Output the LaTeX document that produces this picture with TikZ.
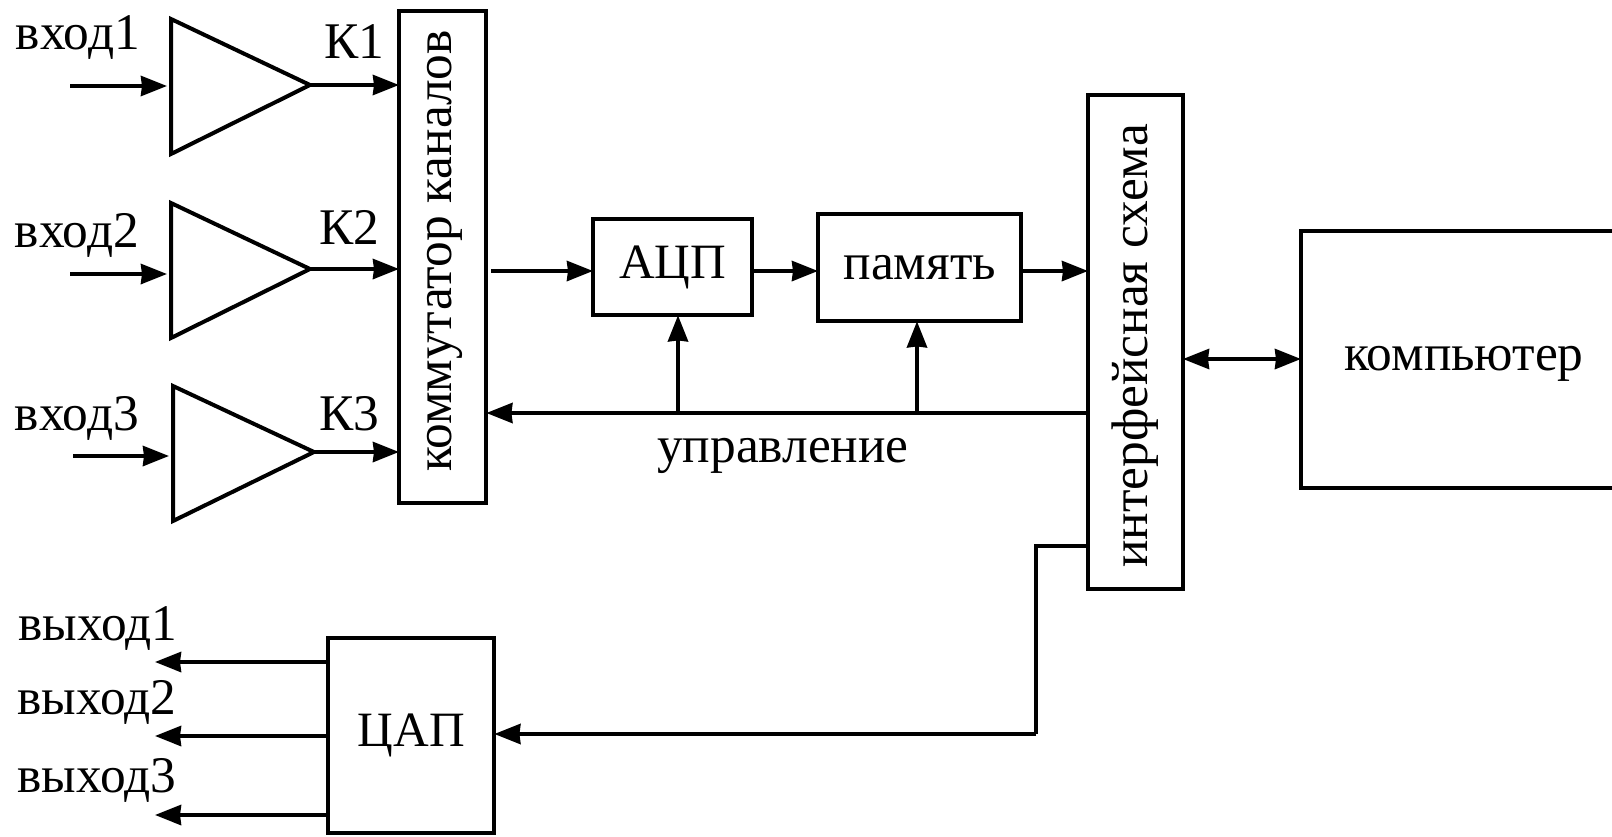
\documentclass[tikz,border=0pt]{standalone}
\usepackage{fontspec}
\setmainfont{Liberation Serif}
\usetikzlibrary{arrows.meta}
\newcommand{\bigfont}{\fontsize{25.7}{28}\selectfont}
\newcommand{\capfont}{\fontsize{24.7}{28}\selectfont}
\tikzset{
 x=0.5pt,y=-0.5pt,
 wire/.style={line width=1.9pt,shorten >=-1pt,-{Stealth[length=13pt,width=10pt,inset=0.5pt]}},
 plain/.style={line width=1.9pt},
 twoway/.style={line width=1.9pt,{Stealth[length=13pt,width=10pt,inset=0.5pt]}-{Stealth[length=13pt,width=10pt,inset=0.5pt]}},
 blockbox/.style={draw,line width=2.2pt,inner sep=0pt,anchor=north west},
 lab/.style={inner sep=0pt,font=\bigfont},
 amp/.style={draw,line width=2pt,line join=miter},
}
\newcommand{\blockat}[6]{\node[blockbox,minimum width=#4*0.5pt,minimum height=#5*0.5pt] (#1) at (#2,#3) {#6};}
\begin{document}
\begin{tikzpicture}
\useasboundingbox (0,0) rectangle (1612,836);
% amplifiers
\foreach \n/\xa/\ya/\ax/\ay in {1/171/19/310/85,2/171/203/310/269,3/173/386/314/452}{
  \coordinate (t\n) at (\xa,\ya);
  \coordinate (b\n) at (\xa,\ya+135);
  \coordinate (o\n) at (\ax,\ay);
  \draw[amp] (t\n) -- (b\n) -- (o\n) -- cycle;
}
\coordinate (i1) at (165,86);
\coordinate (i2) at (165,274);
\coordinate (i3) at (167,456);
\coordinate (s1) at (70,86);
\coordinate (s2) at (70,274);
\coordinate (s3) at (73,456);
% blocks
\blockat{com}{397}{9}{87}{492}{}
\blockat{adc}{591}{217}{159}{96}{\capfont АЦП}
\blockat{mem}{816}{212}{203}{107}{\bigfont память}
\blockat{ifc}{1086}{93}{95}{494}{}
\blockat{dac}{326}{636}{166}{195}{\capfont ЦАП}
\node[lab,rotate=90] (comtext) at (445,251) {коммутатор каналов};
\node[lab,rotate=90] (ifctext) at (1135,346) {интерфейсная схема};
% computer: open at the right edge
\coordinate (ctr) at (1614,231);
\coordinate (ctl) at (1301,231);
\coordinate (cbl) at (1301,488);
\coordinate (cbr) at (1614,488);
\draw[line width=2.2pt] (ctr) -- (ctl) -- (cbl) -- (cbr);
\node[lab] (comp) at (1464,364) {компьютер};
% inputs
\foreach \n in {1,2,3}{\draw[wire] (s\n) -- (i\n);}
\draw[wire] (o1) -- (com.west |- o1);
\draw[wire] (o2) -- (com.west |- o2);
\draw[wire] (o3) -- (com.west |- o3);
\node[lab] (v1) at (78,37) {вход1};
\node[lab] (v2) at (77,235) {вход2};
\node[lab] (v3) at (77,418) {вход3};
\node[lab] (k1) at (354,42) {К1};
\node[lab] (k2) at (349,227) {К2};
\node[lab] (k3) at (349,414) {К3};
% main line
\coordinate (mo) at (491,271);
\draw[wire] (mo) -- (adc.west |- mo);
\draw[wire] (adc.east |- mo) -- (mem.west |- mo);
\draw[wire] (mem.east |- mo) -- (ifc.west |- mo);
\coordinate (c0) at (1088,413);
\draw[wire] (c0) -- (com.east |- c0);
\coordinate (c1) at (678,413);
\coordinate (c2) at (917,413);
\draw[wire] (c1) -- (c1 |- adc.south);
\draw[wire] (c2) -- (c2 |- mem.south);
\node[lab] (upr) at (783,456) {управление};
\coordinate (bi) at (1183,359);
\draw[twoway] (bi) -- (ctl |- bi);
% DAC link
\coordinate (d0) at (1088,546);
\coordinate (d1) at (1036,546);
\coordinate (d2) at (1036,734);
\draw[plain,line join=miter] (d0) -- (d1) -- (d2);
\draw[wire] (d2) -- (dac.east |- d2);
% outputs
\coordinate (e1) at (157,662);
\coordinate (e2) at (157,736);
\coordinate (e3) at (157,815);
\draw[wire] (dac.west |- e1) -- (e1);
\draw[wire] (dac.west |- e2) -- (e2);
\draw[wire] (dac.west |- e3) -- (e3);
\node[lab] (w1) at (98,628) {выход1};
\node[lab] (w2) at (97,702) {выход2};
\node[lab] (w3) at (97,780) {выход3};
\end{tikzpicture}
\end{document}
